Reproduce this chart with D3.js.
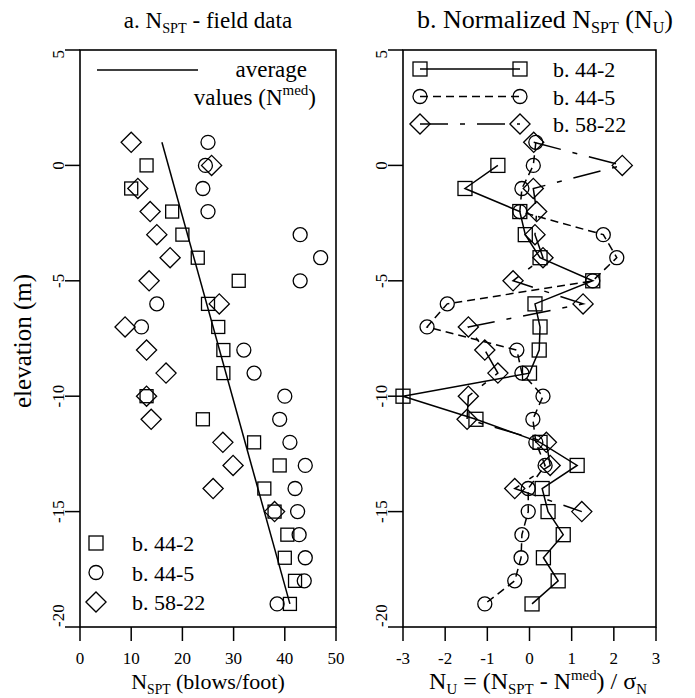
<!DOCTYPE html>
<html>
<head>
<meta charset="utf-8">
<script src="https://cdn.jsdelivr.net/npm/d3@7"></script>
<style>
  body { margin: 0; background: #fff; }
</style>
</head>
<body>
<svg id="chart" width="695" height="698" font-family="'Liberation Serif', 'Times New Roman', Times, 'DejaVu Serif', serif"></svg>
<script>
// elevations (m) for each boring
var elev442 = [0, -1, -2, -3, -4, -5, -6, -7, -8, -9, -10, -11, -12, -13, -14, -15, -16, -17, -18, -19];
var elev445 = [1, 0, -1, -2, -3, -4, -5, -6, -7, -8, -9, -10, -11, -12, -13, -14, -15, -16, -17, -18, -19];
var elev5822 = [1, 0, -1, -2, -3, -4, -5, -6, -7, -8, -9, -10, -11, -12, -13, -14, -15];

// field N_SPT (blows/foot)
var nspt442 = [13, 10, 18, 20, 23, 31, 25, 27, 28, 28, 13, 24, 34, 39, 36, 38, 40.5, 40, 42, 41];
var nspt445 = [25, 24.5, 24, 25, 43, 47, 43, 15, 12, 32, 34, 40, 39, 41, 44, 42, 42.5, 42.8, 44, 43.8, 38.5];
var nspt5822 = [10, 25.7, 11.3, 13.7, 15, 17.6, 13.5, 27.2, 8.8, 13, 16.8, 13, 13.9, 27.9, 29.9, 26, 38];

// average line (N med)
var medElev = [1, -19];
var medN = [16, 41];

// normalized N_U
var nu442 = [-0.75, -1.53, -0.23, -0.1, 0.25, 1.5, 0.13, 0.25, 0.23, 0, -3, -1.27, 0.25, 1.13, 0.3, 0.44, 0.8, 0.33, 0.68, 0.06];
var nu445 = [0.15, 0.09, -0.18, -0.23, 1.75, 2.07, 1.5, -1.95, -2.43, -0.3, -0.18, 0.32, 0.08, 0.15, 0.37, -0.03, -0.03, -0.18, -0.2, -0.35, -1.06];
var nu5822 = [0.1, 2.2, 0.09, 0.17, 0.13, 0.32, -0.39, 1.27, -1.45, -1.06, -0.75, -1.45, -1.48, 0.4, 0.49, -0.35, 1.24];

var yTicks = [5, 0, -5, -10, -15, -20];
var xTicksA = [0, 10, 20, 30, 40, 50];
var xTicksB = [-3, -2, -1, 0, 1, 2, 3];

var svg = d3.select("#chart");

var y = d3.scaleLinear().domain([-20, 5]).range([627, 50]);
var xa = d3.scaleLinear().domain([0, 50]).range([80, 336]);
var xb = d3.scaleLinear().domain([-3, 3]).range([403, 656]);

function zip(xs, ys) {
  return xs.map(function(v, i) { return {x: v, y: ys[i]}; });
}

function marker(g, type, cx, cy, s) {
  if (type == "square") {
    g.append("rect").attr("x", cx - s / 2).attr("y", cy - s / 2)
      .attr("width", s).attr("height", s);
  } else if (type == "circle") {
    g.append("circle").attr("cx", cx).attr("cy", cy).attr("r", s / 2);
  } else {
    var h = s * 0.72;
    g.append("path").attr("d", "M" + (cx - h) + "," + cy + "L" + cx + "," + (cy - h) +
      "L" + (cx + h) + "," + cy + "L" + cx + "," + (cy + h) + "Z");
  }
}

function frame(x, ticks) {
  var r = x.range();
  svg.append("rect")
    .attr("x", r[0]).attr("y", y(5))
    .attr("width", r[1] - r[0]).attr("height", y(-20) - y(5))
    .attr("fill", "none").attr("stroke", "#000").attr("stroke-width", 1.6);

  var gy = svg.append("g");
  yTicks.forEach(function(t) {
    gy.append("line").attr("x1", r[0] - 15).attr("x2", r[0])
      .attr("y1", y(t)).attr("y2", y(t)).attr("stroke", "#000").attr("stroke-width", 1.5);
    var anchor = t == 5 ? "end" : (t == -20 ? "start" : "middle");
    gy.append("text")
      .attr("transform", "translate(" + (r[0] - 22) + "," + y(t) + ") rotate(-90)")
      .attr("dy", "0.35em").attr("text-anchor", anchor)
      .attr("font-size", 17).text(t);
  });

  var gx = svg.append("g");
  ticks.forEach(function(t) {
    gx.append("line").attr("x1", x(t)).attr("x2", x(t))
      .attr("y1", y(-20)).attr("y2", y(-20) + 14).attr("stroke", "#000").attr("stroke-width", 1.5);
    gx.append("text").attr("x", x(t)).attr("y", 664)
      .attr("text-anchor", "middle").attr("font-size", 17).text(t);
  });
}

frame(xa, xTicksA);
frame(xb, xTicksB);

// ---- panel a ----
var ga = svg.append("g").attr("fill", "none").attr("stroke", "#000").attr("stroke-width", 1.3);

var medLine = d3.line().x(function(d) { return xa(d.x); }).y(function(d) { return y(d.y); });
ga.append("path").datum(zip(medN, medElev)).attr("d", medLine).attr("stroke-width", 1.5);

zip(nspt442, elev442).forEach(function(d) { marker(ga, "square", xa(d.x), y(d.y), 13); });
zip(nspt445, elev445).forEach(function(d) { marker(ga, "circle", xa(d.x), y(d.y), 14); });
zip(nspt5822, elev5822).forEach(function(d) { marker(ga, "diamond", xa(d.x), y(d.y), 14); });

// legend a
ga.append("line").attr("x1", 97).attr("x2", 198).attr("y1", 70).attr("y2", 70).attr("stroke-width", 1.5);
svg.append("text").attr("x", 307).attr("y", 77).attr("text-anchor", "end")
  .attr("font-size", 23).text("average");
var t2 = svg.append("text").attr("x", 316).attr("y", 105).attr("text-anchor", "end").attr("font-size", 23);
t2.append("tspan").text("values (N");
t2.append("tspan").attr("dy", -10).attr("font-size", 15).text("med");
t2.append("tspan").attr("dy", 10).text(")");

var legA = [["square", "b. 44-2"], ["circle", "b. 44-5"], ["diamond", "b. 58-22"]];
legA.forEach(function(l, i) {
  var yy = 543 + i * 29.5;
  marker(ga, l[0], 96, yy, 14);
  svg.append("text").attr("x", 132).attr("y", yy + 8).attr("font-size", 22).text(l[1]);
});

// ---- panel b ----
var gb = svg.append("g").attr("fill", "none").attr("stroke", "#000").attr("stroke-width", 1.3);
var lineB = d3.line().x(function(d) { return xb(d.x); }).y(function(d) { return y(d.y); });

var series = [
  {nu: nu442, el: elev442, type: "square", dash: null},
  {nu: nu445, el: elev445, type: "circle", dash: "8,5"},
  {nu: nu5822, el: elev5822, type: "diamond", dash: "28,12,5,12"}
];

series.forEach(function(s) {
  gb.append("path").datum(zip(s.nu, s.el)).attr("d", lineB)
    .attr("stroke-dasharray", s.dash).attr("stroke-width", 1.5);
});
series.forEach(function(s) {
  zip(s.nu, s.el).forEach(function(d) { marker(gb, s.type, xb(d.x), y(d.y), 14); });
});

var legB = ["b. 44-2", "b. 44-5", "b. 58-22"];
series.forEach(function(s, i) {
  var yy = 69 + i * 27.5;
  gb.append("line").attr("x1", 420).attr("x2", 520).attr("y1", yy).attr("y2", yy)
    .attr("stroke-dasharray", s.dash).attr("stroke-width", 1.5);
  marker(gb, s.type, 420, yy, 14);
  marker(gb, s.type, 520, yy, 14);
  svg.append("text").attr("x", 553).attr("y", yy + 8).attr("font-size", 22).text(legB[i]);
});

// ---- titles and axis labels ----
function subText(x, y, size, parts, anchor) {
  var t = svg.append("text").attr("x", x).attr("y", y).attr("font-size", size)
    .attr("text-anchor", anchor || "middle");
  var shift = 0;
  parts.forEach(function(p) {
    var target = p[1] == "sub" ? 5 : (p[1] == "sup" ? -9 : 0);
    var ts = t.append("tspan").attr("dy", target - shift).text(p[0]);
    if (p[1]) ts.attr("font-size", size * 0.62);
    shift = target;
  });
  return t;
}

subText(208, 28, 23, [["a. N"], ["SPT", "sub"], [" - field data"]]);
subText(545, 28, 26, [["b. Normalized N"], ["SPT", "sub"], [" (N"], ["U", "sub"], [")"]]);
subText(208, 689, 22, [["N"], ["SPT", "sub"], [" (blows/foot)"]]);
subText(538, 689, 24, [["N"], ["U", "sub"], [" = (N"], ["SPT", "sub"], [" - N"], ["med", "sup"], [") / σ"], ["N", "sub"]]);

svg.append("text")
  .attr("transform", "translate(22,341) rotate(-90)")
  .attr("dy", "0.35em").attr("text-anchor", "middle")
  .attr("font-size", 25).text("elevation (m)");
</script>
</body>
</html>
